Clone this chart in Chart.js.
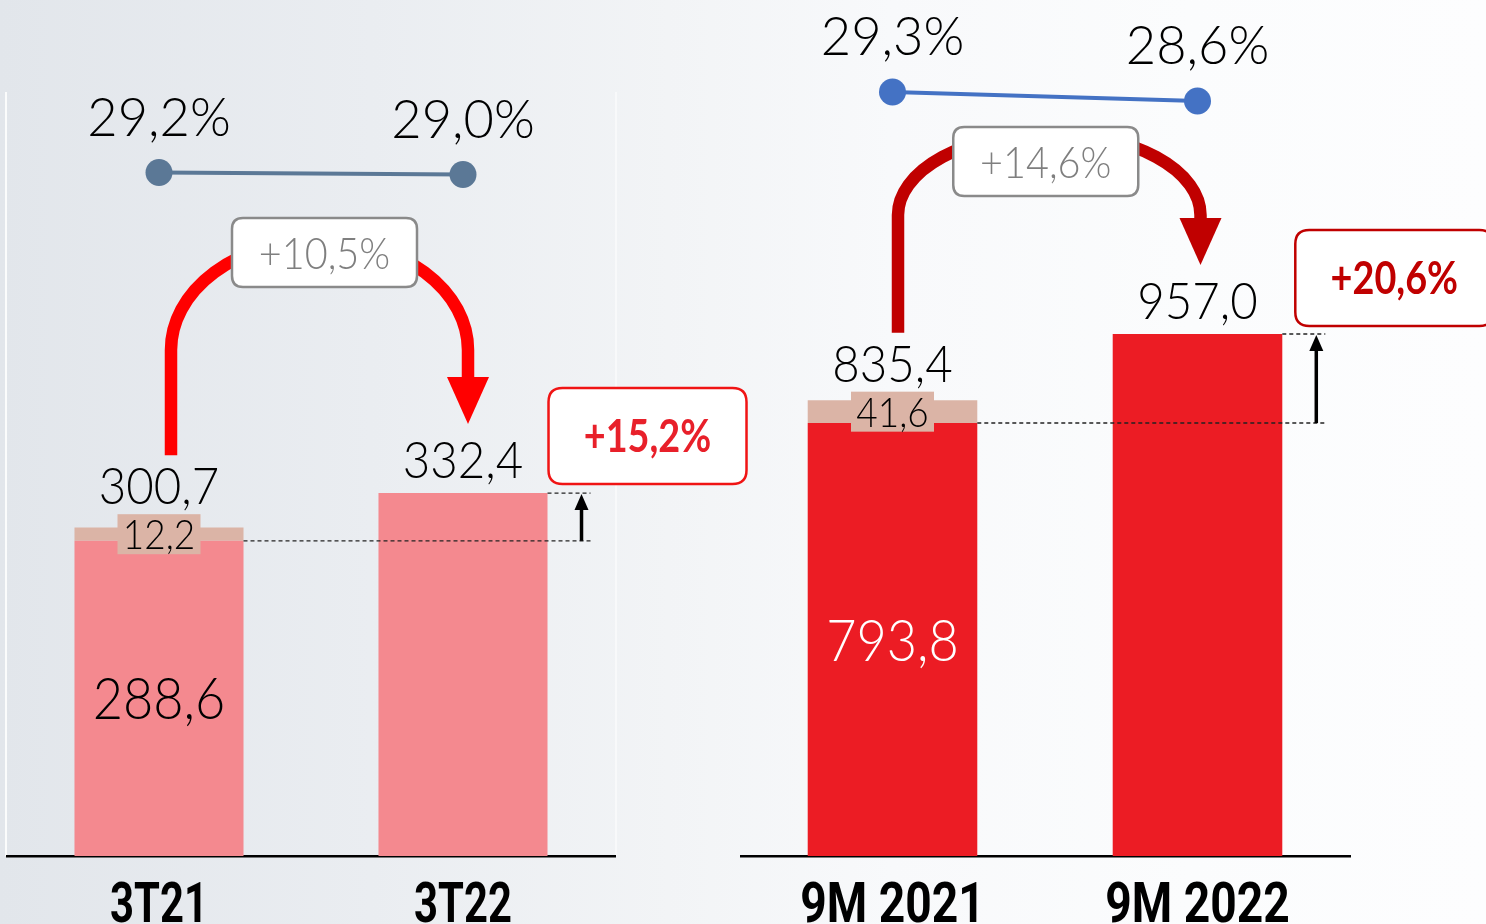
<!DOCTYPE html>
<html><head><meta charset="utf-8">
<script src="https://cdn.jsdelivr.net/npm/chart.js@4.4.1/dist/chart.umd.min.js"></script>
<style>
html,body{margin:0;padding:0;width:1486px;height:924px;overflow:hidden;}
body{position:relative;background:linear-gradient(90deg,#e2e6eb 0%,#eaedf1 25%,#f2f4f6 45%,#f8f9fb 60%,#fbfcfd 80%,#fdfdfe 100%);}
canvas{position:absolute;top:0;}
#cL{left:0;} #cR{left:740px;}
.edge{position:absolute;width:2px;background:rgba(255,255,255,0.85);}
</style></head><body>
<div class="edge" style="left:5px;top:92px;height:764px"></div>
<div class="edge" style="left:615px;top:92px;height:764px;opacity:.6"></div>
<canvas id="cL" width="760" height="924"></canvas>
<canvas id="cR" width="746" height="924"></canvas>
<script>
// ---- data ----
const quarterLabels = ['3T21', '3T22'];
const quarterBase   = [288.6, 332.4];
const quarterExtra  = [12.2, 0];
const quarterTotals = [300.7, 332.4];
const quarterMargin = [29.2, 29.0];

const ninemLabels = ['9M 2021', '9M 2022'];
const ninemBase   = [793.8, 957.0];
const ninemExtra  = [41.6, 0];
const ninemTotals = [835.4, 957.0];
const ninemMargin = [29.3, 28.6];

// ---- helpers ----
const fmt = v => v.toFixed(1).replace('.', ',');
const pct = (a, b) => '+' + fmt((a / b - 1) * 100) + '%';
const LIGHT = 'Lato, "Open Sans", sans-serif';
const BOLD = 'Roboto, "Liberation Sans", sans-serif';

function txt(c, s, x, y, font, color, sx) {
  c.save();
  c.font = font; c.fillStyle = color; c.textAlign = 'center'; c.textBaseline = 'alphabetic';
  c.translate(x, y); c.scale(sx || 1, 1); c.fillText(s, 0, 0);
  c.restore();
}
function rrect(c, x, y, w, h, r) {
  c.beginPath();
  c.moveTo(x + r, y); c.lineTo(x + w - r, y); c.quadraticCurveTo(x + w, y, x + w, y + r);
  c.lineTo(x + w, y + h - r); c.quadraticCurveTo(x + w, y + h, x + w - r, y + h);
  c.lineTo(x + r, y + h); c.quadraticCurveTo(x, y + h, x, y + h - r);
  c.lineTo(x, y + r); c.quadraticCurveTo(x, y, x + r, y); c.closePath();
}

function annot(o) {
  return {
    id: 'annot',
    afterDraw(chart) {
      const c = chart.ctx, ys = chart.scales.y, xs = chart.scales.x;
      const line = chart.getDatasetMeta(0).data;
      const bars = chart.getDatasetMeta(1).data;
      const b0 = bars[0], b1 = bars[1];
      const r0 = b0.x + b0.width / 2, r1 = b1.x + b1.width / 2;
      const yBase0 = ys.getPixelForValue(o.base[0]);
      const yTop1 = ys.getPixelForValue(o.base[1] + o.extra[1]);

      // category labels (axis ticks)
      chart.data.labels.forEach((lab, i) => {
        txt(c, lab, xs.getPixelForValue(i), xs.top + 66, 'bold 55px ' + BOLD, '#000', o.tickScale);
      });

      // dashed reference lines + small black arrow
      c.save();
      c.strokeStyle = '#222'; c.lineWidth = 1.3; c.setLineDash([4, 3]);
      c.beginPath(); c.moveTo(r0, yBase0); c.lineTo(r1 + 43, yBase0); c.stroke();
      c.beginPath(); c.moveTo(r1, yTop1); c.lineTo(r1 + 43, yTop1); c.stroke();
      c.setLineDash([]);
      const ax = r1 + 34;
      c.strokeStyle = '#000'; c.lineWidth = 3.5;
      c.beginPath(); c.moveTo(ax, yBase0); c.lineTo(ax, yTop1 + 14); c.stroke();
      c.fillStyle = '#000';
      c.beginPath(); c.moveTo(ax, yTop1 + 1); c.lineTo(ax - 7, yTop1 + 17); c.lineTo(ax + 7, yTop1 + 17); c.closePath(); c.fill();
      c.restore();

      // labels on bars
      const tops = [];
      o.base.forEach((v, i) => {
        const b = bars[i];
        const yT = ys.getPixelForValue(v + o.extra[i]);
        let labelBottom = yT - 15;
        if (o.extra[i] > 0) {
          const yB = ys.getPixelForValue(v);
          const mid = (yT + yB) / 2;
          c.fillStyle = '#dbb4a6';
          c.fillRect(b.x - 41.5, mid - 20, 83, 40);
          txt(c, fmt(o.extra[i]), b.x, mid + 15, '300 42px ' + LIGHT, '#000', 0.88);
          labelBottom = mid - 20 - 10;
          const yZ = ys.getPixelForValue(0);
          txt(c, fmt(v), b.x, (yB + yZ) / 2 + 21, '300 58px ' + LIGHT, o.insideColor, 0.9);
        }
        txt(c, fmt(o.totals[i]), b.x, labelBottom, '300 51px ' + LIGHT, '#000', 0.93);
        tops.push(labelBottom - 37);
      });

      // margin labels
      line.forEach((p, i) => {
        txt(c, fmt(o.margin[i]) + '%', p.x, p.y - 37, '300 54px ' + LIGHT, '#000', 0.97);
      });

      // curved growth arrow
      const x0 = b0.x + o.arrow.dx0, x1 = b1.x + o.arrow.dx1;
      const cx = (x0 + x1) / 2, rx = (x1 - x0) / 2;
      const cy = o.arrow.cy, ry = o.arrow.ry;
      const startY = tops[0] - 12, tipY = tops[1] - 17;
      c.save();
      c.strokeStyle = o.arrow.color; c.lineWidth = 12.5; c.lineCap = 'butt';
      c.beginPath();
      c.moveTo(x0, startY); c.lineTo(x0, cy);
      c.ellipse(cx, cy, rx, ry, 0, Math.PI, 2 * Math.PI);
      c.lineTo(x1, tipY - 45);
      c.stroke();
      c.fillStyle = o.arrow.color;
      c.beginPath(); c.moveTo(x1, tipY); c.lineTo(x1 - 21, tipY - 47); c.lineTo(x1 + 21, tipY - 47); c.closePath(); c.fill();
      // gray box
      const gbx = cx + o.arrow.boxDx, gby = cy + o.arrow.boxDy;
      rrect(c, gbx - 92.5, gby - 34.5, 185, 69, 11);
      c.fillStyle = '#ffffff'; c.fill();
      c.strokeStyle = '#8a8a8a'; c.lineWidth = 2.5; c.stroke();
      c.restore();
      txt(c, pct(o.totals[1], o.totals[0]), gbx, gby + 16, '300 44px ' + LIGHT, '#7f7f7f', 0.9);

      // red growth box
      const bx = r1 + o.red.dx, bb = yTop1 - o.red.gap;
      c.save();
      rrect(c, bx, bb - 96, o.red.w, 96, 14);
      c.fillStyle = '#ffffff'; c.fill();
      c.strokeStyle = o.red.border; c.lineWidth = 2.5; c.stroke();
      c.restore();
      txt(c, pct(o.base[1], o.base[0]), bx + 99, bb - 48 + 16, 'bold 45px Lato, sans-serif', o.red.text, 0.84);
    }
  };
}

function makePanel(id, o) {
  return new Chart(document.getElementById(id), {
    data: {
      labels: o.labels,
      datasets: [
        { type: 'line', data: o.margin, yAxisID: 'y2', borderColor: o.lineColor, backgroundColor: o.lineColor,
          pointBackgroundColor: o.lineColor, pointBorderColor: o.lineColor, pointRadius: 13.5, pointBorderWidth: 0,
          borderWidth: 4, order: 0 },
        { type: 'bar', data: o.base, yAxisID: 'y', backgroundColor: o.barColor, stack: 's', order: 1,
          barPercentage: 0.556, categoryPercentage: 1 },
        { type: 'bar', data: o.extra, yAxisID: 'y', backgroundColor: '#dbb4a6', stack: 's', order: 1,
          barPercentage: 0.556, categoryPercentage: 1 }
      ]
    },
    options: {
      responsive: false, animation: false, devicePixelRatio: 1,
      layout: { autoPadding: false, padding: { left: o.padL, right: o.padR, top: 0, bottom: 0 } },
      plugins: { legend: { display: false }, tooltip: { enabled: false } },
      scales: {
        x: { stacked: true, grid: { display: false, drawTicks: false },
             border: { display: true, color: '#000', width: 2.5 },
             ticks: { display: false },
             afterFit: s => { s.height = 68; } },
        y: { stacked: true, display: false, min: 0, max: o.yMax },
        y2: { display: false, min: o.y2Min, max: o.y2Max }
      }
    },
    plugins: [annot(o)]
  });
}

makePanel('cL', {
  labels: quarterLabels, base: quarterBase, extra: quarterExtra, totals: quarterTotals, margin: quarterMargin,
  barColor: '#f4898f', lineColor: '#5b7896', insideColor: '#000', tickScale: 0.76,
  padL: 7, padR: 145, yMax: 783.9, y2Min: -39.15, y2Max: 46.45,
  arrow: { color: '#ff0000', dx0: 12, dx1: 5, cy: 350, ry: 110, boxDx: 5, boxDy: -97.5 },
  red: { dx: 1, gap: 9, w: 198, border: '#f01414', text: '#e8202a' }
});
makePanel('cR', {
  labels: ninemLabels, base: ninemBase, extra: ninemExtra, totals: ninemTotals, margin: ninemMargin,
  barColor: '#ec1c24', lineColor: '#4472c4', insideColor: '#fff', tickScale: 0.84,
  padL: 0, padR: 136, yMax: 1569.3, y2Min: -30.11, y2Max: 36.45,
  arrow: { color: '#c00000', dx0: 5.5, dx1: 3, cy: 215, ry: 82, boxDx: -3.5, boxDy: -53.5 },
  red: { dx: 13, gap: 8, w: 198, border: '#c00000', text: '#c00000' }
});
</script>
</body></html>
